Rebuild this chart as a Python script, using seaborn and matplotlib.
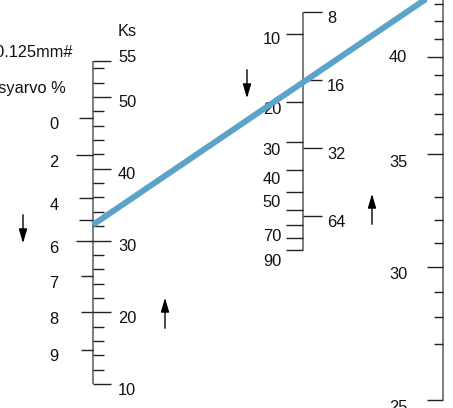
import numpy as np
import pandas as pd
import matplotlib
matplotlib.use("Agg")
import matplotlib.pyplot as plt
import seaborn as sns

# --- scale data ---
ks_ticks = [10, 12, 14, 16, 18, 20, 22, 24, 26, 28, 30, 32, 34, 36, 38, 40,
            42, 44, 46, 48, 50, 52, 54, 55]
ks_major = [10, 20, 30, 40, 50, 55]

# passing percentage scale, given as the matching Ks value on the same line
pct_values = [0, 2, 4, 5, 6, 7, 8, 9]
pct_ks = [47.1, 41.9, 35.9, 32.9, 29.9, 25.0, 20.0, 14.8]
pct_long = [2, 6]
pct_hidden = [5]

mid_left = [10, 20, 30, 40, 50, 60, 70, 80, 90]
mid_left_labels = [10, 20, 30, 40, 50, 70, 90]
mid_right = [8, 16, 32, 64]

right_ticks = [43, 42, 41, 40, 39, 38, 37, 36, 35, 33, 32, 31, 30, 29, 28, 27, 25]
right_major = [40, 35, 30, 25]

# reading line
line_ks = 32.2
line_right = 44

# --- nomogram scales (figure pixels, y grows downwards) ---
X_KS, X_MID, X_RIGHT = 93, 303, 443


def ks_y(v):
    return 61 + (55 - np.asarray(v, dtype=float)) * 7.18


def mid_y(v):
    return 34 + 226 * np.log10(np.asarray(v, dtype=float) / 10)


def mid_label_y(v):
    return 40 + 232 * np.log10(np.asarray(v, dtype=float) / 10)


def right_y(v):
    return 57 + 1680 * np.log10(40 / np.asarray(v, dtype=float))


sns.set_theme(style="white")
plt.rcParams['font.family'] = ['Liberation Sans', 'DejaVu Sans']
plt.rcParams['text.color'] = '#111111'

fig = plt.figure(figsize=(4.53, 4.08), dpi=100)
ax = fig.add_axes([0, 0, 1, 1])

spine_kw = dict(color='#666666', lw=1.2, solid_capstyle='butt')
tick_kw = dict(colors='#222222', lw=1.0)
fs = 11.8

# Ks axis (left)
ax.plot([X_KS, X_KS], [ks_y(55), ks_y(10)], **spine_kw)
minor = [v for v in ks_ticks if v not in ks_major]
ax.hlines(ks_y(minor), X_KS, X_KS + 11, **tick_kw)
ax.hlines(ks_y(ks_major), X_KS, X_KS + 18, **tick_kw)
for v in ks_major:
    dy = -3 if v == 55 else 6
    ax.text(X_KS + 25, ks_y(v) + dy, str(v), ha='left', va='center', fontsize=fs)
ax.text(X_KS + 25, 32, "Ks", ha='left', va='center', fontsize=fs)

# passing % (left side of the same line)
for p, k in zip(pct_values, pct_ks):
    length = 17 if p in pct_long else 14
    if p in (7, 8, 9):
        length = 12
    ax.hlines(ks_y(k), X_KS - length, X_KS, **tick_kw)
    if p not in pct_hidden:
        ax.text(54, ks_y(k) + 7, str(p), ha='center', va='center', fontsize=fs)

ax.text(72, 53, "Läpäisy 0.125mm#", ha='right', va='center', fontsize=fs)
ax.text(66, 88, "Läpäisyarvo %", ha='right', va='center', fontsize=fs)

# middle log axis
ax.plot([X_MID, X_MID], [mid_y(8), mid_y(90)], **spine_kw)
ax.hlines(mid_y(mid_left), X_MID - 17, X_MID, **tick_kw)
ax.hlines(mid_y(mid_right), X_MID, X_MID + 19, **tick_kw)
for v in mid_left_labels:
    ax.text(X_MID - 22, mid_label_y(v), str(v), ha='right', va='center', fontsize=fs)
for v in mid_right:
    ax.text(X_MID + 24, mid_y(v) + 6, str(v), ha='left', va='center', fontsize=fs)

# right log axis
ax.plot([X_RIGHT, X_RIGHT], [-20, right_y(25)], **spine_kw)
rminor = [v for v in right_ticks if v not in right_major]
ax.hlines(right_y(rminor), X_RIGHT - 9, X_RIGHT, **tick_kw)
ax.hlines(right_y(right_major), X_RIGHT - 16, X_RIGHT, **tick_kw)
for v in right_major:
    dy = 0 if v == 40 else 8
    ax.text(398, right_y(v) + dy, str(v), ha='center', va='center', fontsize=fs)

# direction arrows
arrow_kw = dict(arrowstyle='-|>,head_length=0.85,head_width=0.25',
                color='black', lw=1.0, mutation_scale=10)
for x, y0, y1 in [(23, 212, 246), (165, 331, 295), (247, 67, 101), (372, 227, 191)]:
    ax.annotate("", xy=(x, y1), xytext=(x, y0), arrowprops=arrow_kw)

# reading line
line_df = pd.DataFrame({
    'x': [X_KS, X_RIGHT],
    'y': [float(ks_y(line_ks)), float(right_y(line_right))],
})
sns.lineplot(data=line_df, x='x', y='y', ax=ax, color='#5ba3c8', lw=4.3,
             solid_capstyle='butt', zorder=5)

ax.set_xlim(0, 453)
ax.set_ylim(408, 0)
ax.set_axis_off()

fig.savefig("out.png", dpi=100)
